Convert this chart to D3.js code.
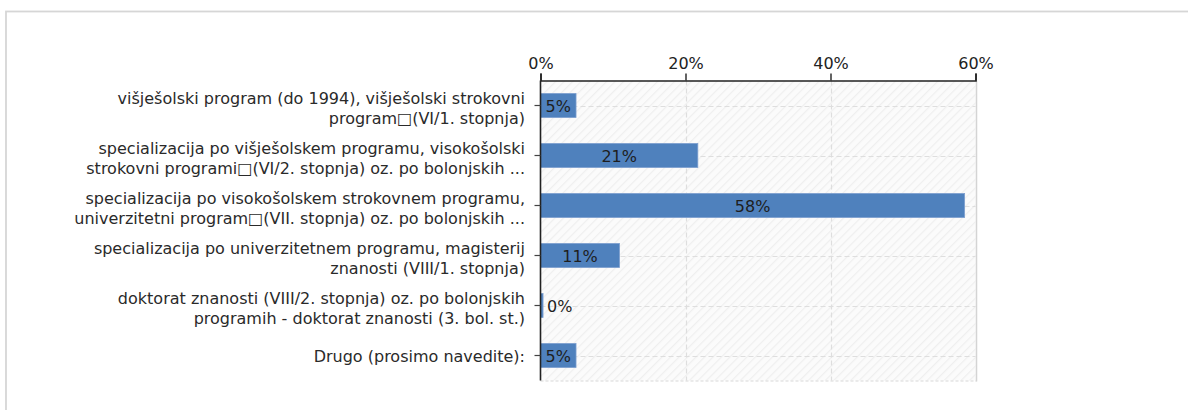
<!DOCTYPE html>
<html>
<head>
<meta charset="utf-8">
<script src="https://cdn.jsdelivr.net/npm/d3@7"></script>
<style>
  html, body { margin: 0; padding: 0; background: #fff; }
  svg { display: block; }
  text { font-family: "DejaVu Sans", Verdana, sans-serif; }
</style>
</head>
<body>
<svg id="chart" width="1188" height="410"></svg>
<script>
// ---- data ----
const categories = [
  ["višješolski program (do 1994), višješolski strokovni", "program\u25A1(VI/1. stopnja)"],
  ["specializacija po višješolskem programu, visokošolski", "strokovni programi\u25A1(VI/2. stopnja) oz. po bolonjskih ..."],
  ["specializacija po visokošolskem strokovnem programu,", "univerzitetni program\u25A1(VII. stopnja) oz. po bolonjskih ..."],
  ["specializacija po univerzitetnem programu, magisterij", "znanosti (VIII/1. stopnja)"],
  ["doktorat znanosti (VIII/2. stopnja) oz. po bolonjskih", "programih - doktorat znanosti (3. bol. st.)"],
  ["Drugo (prosimo navedite):"]
];
const values = [4.9, 21.7, 58.5, 10.9, 0.35, 4.9];
const valueLabels = ["5%", "21%", "58%", "11%", "0%", "5%"];
const xTicks = [0, 20, 40, 60];

(function () {
// ---- layout ----
const svg = d3.select("#chart");
const pLeft = 540.5, pRight = 975.5, pTop = 80.5, pBottom = 380.5;

// outer frame
svg.append("rect").attr("x", 6).attr("y", 11.5).attr("width", 1300).attr("height", 500)
  .attr("fill", "none").attr("stroke", "#d6d6d6").attr("stroke-width", 1.8);

const x = d3.scaleLinear().domain([0, 60]).range([pLeft, pRight]);
const y = d3.scaleBand().domain(d3.range(categories.length)).range([pTop, pBottom]).paddingInner(0.52).paddingOuter(0.26);

// hatch pattern background
const defs = svg.append("defs");
const pat = defs.append("pattern").attr("id", "hatch").attr("patternUnits", "userSpaceOnUse")
  .attr("width", 6).attr("height", 6).attr("patternTransform", "rotate(45)");
pat.append("rect").attr("width", 6).attr("height", 6).attr("fill", "#fbfbfb");
pat.append("line").attr("x1", 0).attr("y1", 0).attr("x2", 0).attr("y2", 6)
  .attr("stroke", "#efefef").attr("stroke-width", 2.5);

svg.append("rect").attr("x", pLeft).attr("y", pTop).attr("width", pRight - pLeft).attr("height", pBottom - pTop)
  .attr("fill", "url(#hatch)");

// grid lines
const grid = svg.append("g");
xTicks.filter(t => t > 0 && t < 60).forEach(t => {
  grid.append("line").attr("x1", Math.round(x(t)) + 0.5).attr("x2", Math.round(x(t)) + 0.5)
    .attr("y1", pTop).attr("y2", pBottom)
    .attr("stroke", "#dedede").attr("stroke-width", 1.2).attr("stroke-dasharray", "5,3");
});
categories.forEach((c, i) => {
  const cy = Math.round(y(i) + y.bandwidth() / 2) + 0.5;
  grid.append("line").attr("x1", pLeft).attr("x2", pRight).attr("y1", cy).attr("y2", cy)
    .attr("stroke", "#dedede").attr("stroke-width", 1.2).attr("stroke-dasharray", "5,3");
});
// bottom dashed border & right solid border
grid.append("line").attr("x1", pLeft).attr("x2", pRight + 1).attr("y1", pBottom + 0.5).attr("y2", pBottom + 0.5)
  .attr("stroke", "#d8d8d8").attr("stroke-width", 1.2).attr("stroke-dasharray", "3,2");
grid.append("line").attr("x1", pRight + 1).attr("x2", pRight + 1).attr("y1", pTop).attr("y2", pBottom + 1)
  .attr("stroke", "#d4d4d4").attr("stroke-width", 1.5);

// bars
svg.append("g").selectAll("rect").data(values).join("rect")
  .attr("x", x(0))
  .attr("y", (d, i) => y(i))
  .attr("width", d => Math.max(x(d) - x(0), 2))
  .attr("height", y.bandwidth())
  .attr("fill", "#4f81bd")
  .attr("stroke", "#7d9fcf").attr("stroke-width", 0.8);

// value labels
svg.append("g").selectAll("text").data(values).join("text")
  .attr("x", (d, i) => {
    const w = x(d) - x(0);
    return w > 30 ? x(0) + w / 2 : x(d) + 4;
  })
  .attr("text-anchor", d => (x(d) - x(0) > 30 ? "middle" : "start"))
  .attr("y", (d, i) => y(i) + y.bandwidth() / 2 + 6)
  .attr("font-size", 16)
  .attr("fill", "#1e1e1e")
  .text((d, i) => valueLabels[i]);

// top axis
const xAxis = d3.axisTop(x).tickValues(xTicks).tickSize(7).tickPadding(5).tickFormat(d => d + "%");
const gx = svg.append("g").attr("transform", `translate(0,${pTop})`).call(xAxis);
gx.select(".domain").attr("stroke", "#222").attr("stroke-width", 1.6);
gx.selectAll(".tick line").attr("stroke", "#222").attr("stroke-width", 1.4);
gx.selectAll(".tick text").attr("font-size", 16).attr("fill", "#222")
  .attr("font-family", "DejaVu Sans, sans-serif");

// left axis
const yAxis = d3.axisLeft(y).tickSize(6).tickFormat("");
const gy = svg.append("g").attr("transform", `translate(${pLeft},0)`).call(yAxis);
gy.select(".domain").attr("stroke", "#222").attr("stroke-width", 1.6).attr("d", `M0,${pTop}V${pBottom}`);
gy.selectAll(".tick line").attr("stroke", "#444").attr("stroke-width", 1.2);

// category labels
const lg = svg.append("g");
categories.forEach((lines, i) => {
  const cy = y(i) + y.bandwidth() / 2;
  const n = lines.length;
  const t = lg.append("text").attr("text-anchor", "end").attr("font-size", 16).attr("fill", "#2a2a2a");
  lines.forEach((ln, j) => {
    t.append("tspan").attr("x", 525)
      .attr("y", cy + 6 + (j - (n - 1) / 2) * 20 + (n > 1 ? 2 : 0))
      .text(ln);
  });
});
})();
</script>
</body>
</html>
